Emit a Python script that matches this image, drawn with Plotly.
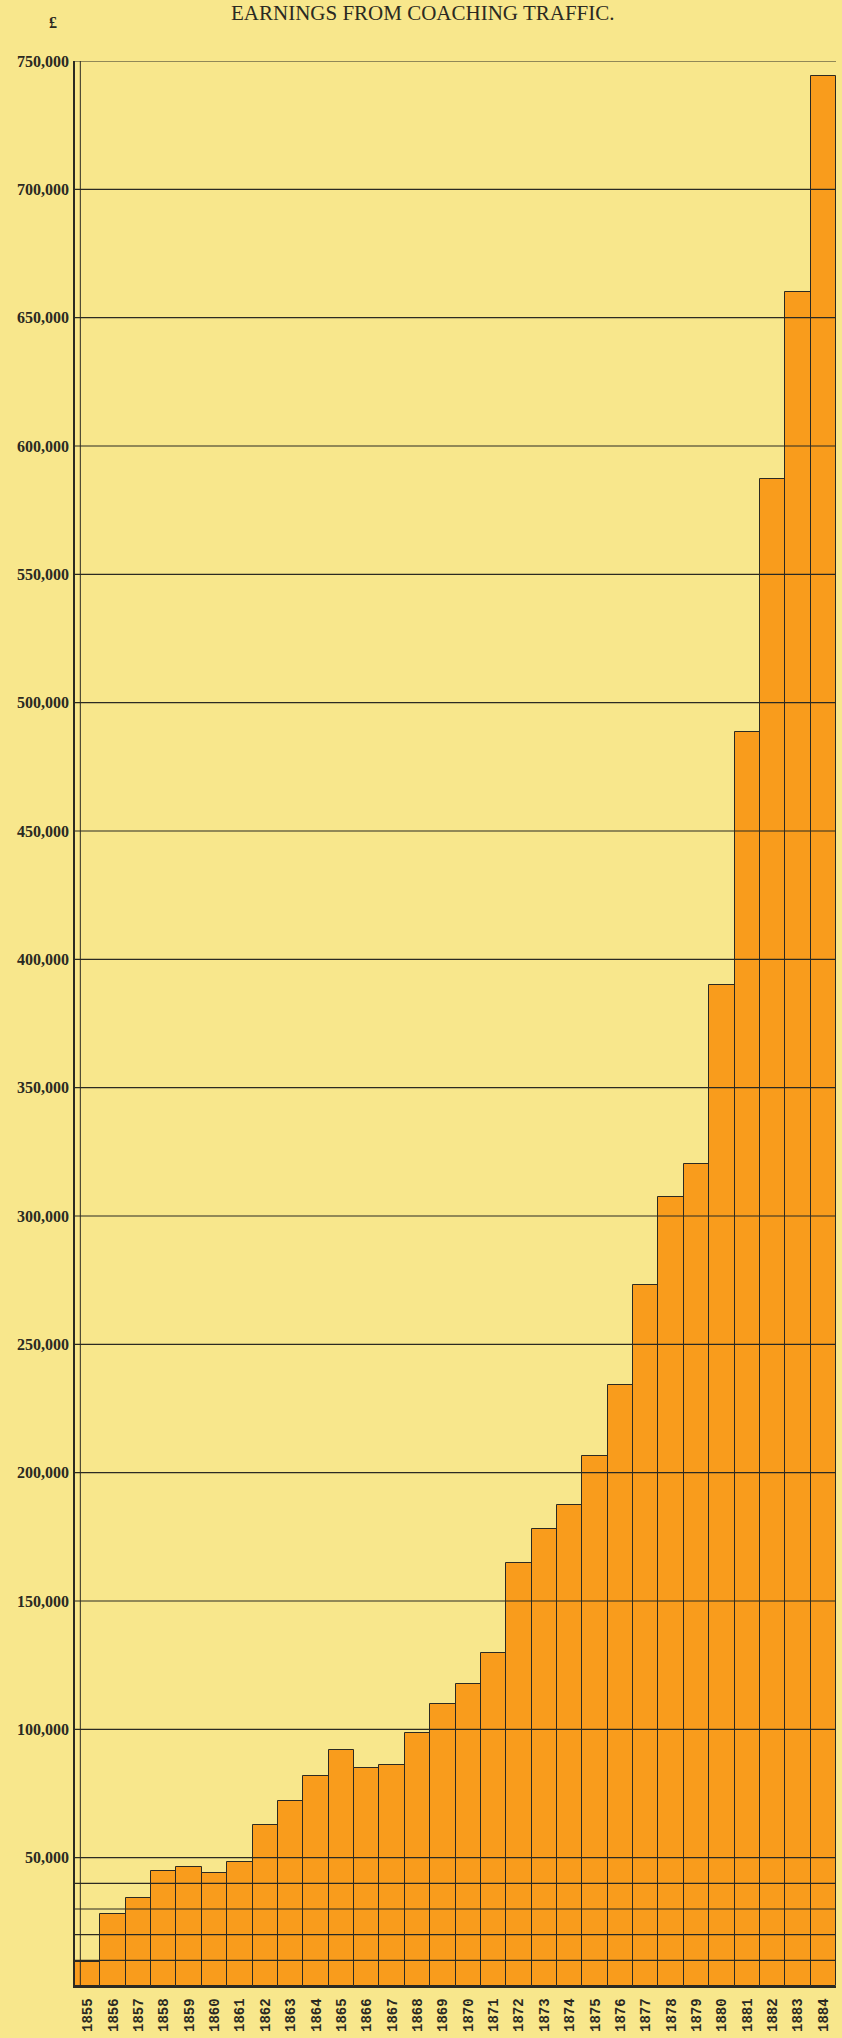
import plotly.graph_objects as go

years = [str(y) for y in range(1855, 1885)]
earnings = [9500, 28200, 34200, 44800, 46200, 44200, 48500, 62700, 71900, 81800,
            91900, 85000, 86000, 98500, 110000, 117600, 129800, 164700, 178000, 187500,
            206500, 234000, 273000, 307400, 320300, 390000, 488700, 587000, 660000, 744000]
label_ticks = list(range(50000, 750001, 50000))
grid_lines = [10000, 20000, 30000, 40000] + label_ticks

BG = "#F8E78C"
BAR = "#F99C1C"
INK = "#2b2a22"

fig = go.Figure()
fig.add_trace(go.Bar(
    x=years, y=earnings,
    marker=dict(color=BAR, line=dict(color=INK, width=1)),
    hoverinfo="x+y",
))

shapes = []
for g in grid_lines:
    shapes.append(dict(type="line", xref="paper", yref="y", x0=0, x1=1, y0=g, y1=g,
                       line=dict(color=INK, width=1.2), layer="above"))
# double left rule
shapes.append(dict(type="line", xref="paper", yref="paper", x0=0.007, x1=0.007, y0=0, y1=1,
                   line=dict(color=INK, width=1), layer="above"))

fig.update_layout(
    width=842, height=2038,
    margin=dict(l=75, r=6, t=61, b=52),
    paper_bgcolor=BG, plot_bgcolor=BG,
    bargap=0,
    showlegend=False,
    shapes=shapes,
    font=dict(family="Liberation Serif", color=INK),
    annotations=[
        dict(text="EARNINGS FROM COACHING TRAFFIC.", xref="paper", yref="paper",
             x=0.457, y=1 + (61 - 13) / 1925, xanchor="center", yanchor="middle",
             showarrow=False, font=dict(family="Liberation Serif", size=21, color=INK)),
        dict(text="£", xref="paper", yref="paper",
             x=-0.029, y=1 + (61 - 22) / 1925, xanchor="center", yanchor="middle",
             showarrow=False, font=dict(family="Liberation Serif", size=16, color=INK, weight="bold")),
    ],
)
fig.update_yaxes(
    range=[0, 750000], tickvals=label_ticks, tickformat=",d",
    showgrid=False, zeroline=False, showline=True, linecolor=INK, linewidth=1.5,
    ticks="", ticklabelstandoff=1,
    tickfont=dict(family="Liberation Serif", size=16, color=INK, weight="bold"),
)
fig.update_xaxes(
    type="category", tickangle=-90, showgrid=False, showline=True, linecolor=INK, linewidth=1.5,
    ticks="", ticklabelstandoff=5,
    tickfont=dict(family="Liberation Mono", size=14, color=INK, weight="bold"),
)

fig.write_html("out.html", config={"displayModeBar": False},
               post_script="document.body.style.margin='0';document.body.style.overflow='hidden';")
